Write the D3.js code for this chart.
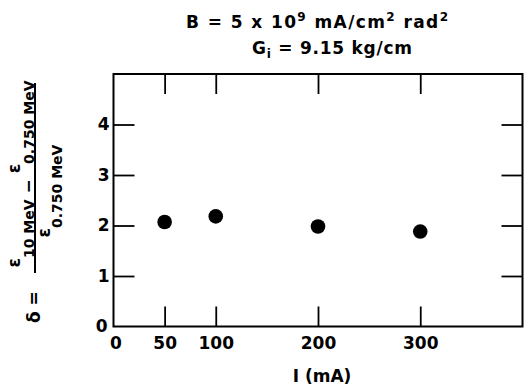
<!DOCTYPE html>
<html>
<head>
<meta charset="utf-8">
<script src="https://cdn.jsdelivr.net/npm/d3@7"></script>
<style>
  body { margin: 0; background: #fff; }
  svg { display: block; }
  text { font-family: "DejaVu Sans", sans-serif; font-weight: 700; fill: #000; }
</style>
</head>
<body>
<svg id="chart" width="524" height="389"></svg>
<script>
// Beam current (mA) and relative efficiency change delta
const currents = [50, 100, 200, 300];
const deltas = [2.07, 2.18, 1.98, 1.88];
const xTickValues = [0, 50, 100, 200, 300];
const yTickValues = [0, 1, 2, 3, 4];

const svg = d3.select("#chart");
const plotLeft = 113.5, plotRight = 522.5, plotTop = 74, plotBottom = 326.5;

const x = d3.scaleLinear().domain([0, 400]).range([plotLeft, plotRight]);
const y = d3.scaleLinear().domain([0, 5]).range([plotBottom, plotTop]);

// inward ticks on all four sides
function styleAxis(g) {
  g.select(".domain").remove();
  g.selectAll(".tick line").attr("stroke", "#000").attr("stroke-width", 1.8);
  g.selectAll(".tick text").style("font-size", "17px").attr("fill", "#000")
    .style("font-family", "'DejaVu Sans', sans-serif").style("font-weight", 700);
}

svg.append("g").attr("transform", `translate(0,${plotBottom})`)
  .call(d3.axisBottom(x).tickValues(xTickValues).tickSize(-20).tickPadding(10)
    .tickFormat(d3.format("d")))
  .call(styleAxis)
  .call(g => g.selectAll(".tick").filter(d => d === 0).select("line").remove())
  .call(g => g.selectAll(".tick").filter(d => d === 0).select("text").attr("x", 2));

svg.append("g").attr("transform", `translate(0,${plotTop})`)
  .call(d3.axisTop(x).tickValues(currents).tickSize(-20).tickFormat(""))
  .call(styleAxis);

svg.append("g").attr("transform", `translate(${plotLeft},0)`)
  .call(d3.axisLeft(y).tickValues(yTickValues).tickSize(-21).tickPadding(4)
    .tickFormat(d3.format("d")))
  .call(styleAxis)
  .call(g => g.selectAll(".tick").filter(d => d === 0).select("line").remove())
  .call(g => g.selectAll(".tick").filter(d => d === 0).select("text").attr("x", -6));

svg.append("g").attr("transform", `translate(${plotRight},0)`)
  .call(d3.axisRight(y).tickValues(yTickValues.filter(d => d > 0)).tickSize(-21).tickFormat(""))
  .call(styleAxis);

// plot frame
svg.append("rect")
  .attr("x", plotLeft).attr("y", plotTop)
  .attr("width", plotRight - plotLeft).attr("height", plotBottom - plotTop)
  .attr("fill", "none").attr("stroke", "#000").attr("stroke-width", 2);

// data points
svg.append("g").selectAll("circle")
  .data(currents.map((c, i) => ({ c, d: deltas[i] })))
  .join("circle")
  .attr("cx", p => x(p.c))
  .attr("cy", p => y(p.d))
  .attr("r", 7.3)
  .attr("fill", "#000");

// x-axis title
svg.append("text").attr("x", 322).attr("y", 382)
  .attr("text-anchor", "middle").style("font-size", "17px")
  .text("I (mA)");

// header lines
const h1 = svg.append("text").attr("x", 186).attr("y", 28).style("font-size", "17px")
  .attr("textLength", 262).attr("lengthAdjust", "spacing");
h1.append("tspan").text("B = 5 x 10");
h1.append("tspan").attr("dy", -7).style("font-size", "12px").text("9");
h1.append("tspan").attr("dy", 7).text(" mA/cm");
h1.append("tspan").attr("dy", -7).style("font-size", "12px").text("2");
h1.append("tspan").attr("dy", 7).text(" rad");
h1.append("tspan").attr("dy", -7).style("font-size", "12px").text("2");

const h2 = svg.append("text").attr("x", 252).attr("y", 54).style("font-size", "17px")
  .attr("textLength", 160).attr("lengthAdjust", "spacing");
h2.append("tspan").text("G");
h2.append("tspan").attr("dy", 4).style("font-size", "12px").text("i");
h2.append("tspan").attr("dy", -4).text(" = 9.15 kg/cm");

// rotated y-axis title: delta = (e_10MeV - e_0.750MeV) / e_0.750MeV
const yl = svg.append("g").attr("transform", "translate(35,178) rotate(-90)");
yl.append("line").attr("x1", -95).attr("x2", 95).attr("y1", 0).attr("y2", 0)
  .attr("stroke", "#000").attr("stroke-width", 2);

const num = yl.append("text").attr("x", 4).attr("y", -15)
  .attr("text-anchor", "middle").style("font-size", "17px");
num.append("tspan").text("ε");
num.append("tspan").attr("dy", 14).style("font-size", "14px").text("10 MeV");
num.append("tspan").attr("dy", 0).text(" − ");
num.append("tspan").attr("dy", -14).text("ε");
num.append("tspan").attr("dy", 14).style("font-size", "14px").text("0.750 MeV");

const den = yl.append("text").attr("x", -13).attr("y", 15)
  .attr("text-anchor", "middle").style("font-size", "17px");
den.append("tspan").text("ε");
den.append("tspan").attr("dy", 12).style("font-size", "14px").text("0.750 MeV");

yl.append("text").attr("x", -145).attr("y", 5)
  .style("font-size", "17px").text("δ =");
</script>
</body>
</html>
